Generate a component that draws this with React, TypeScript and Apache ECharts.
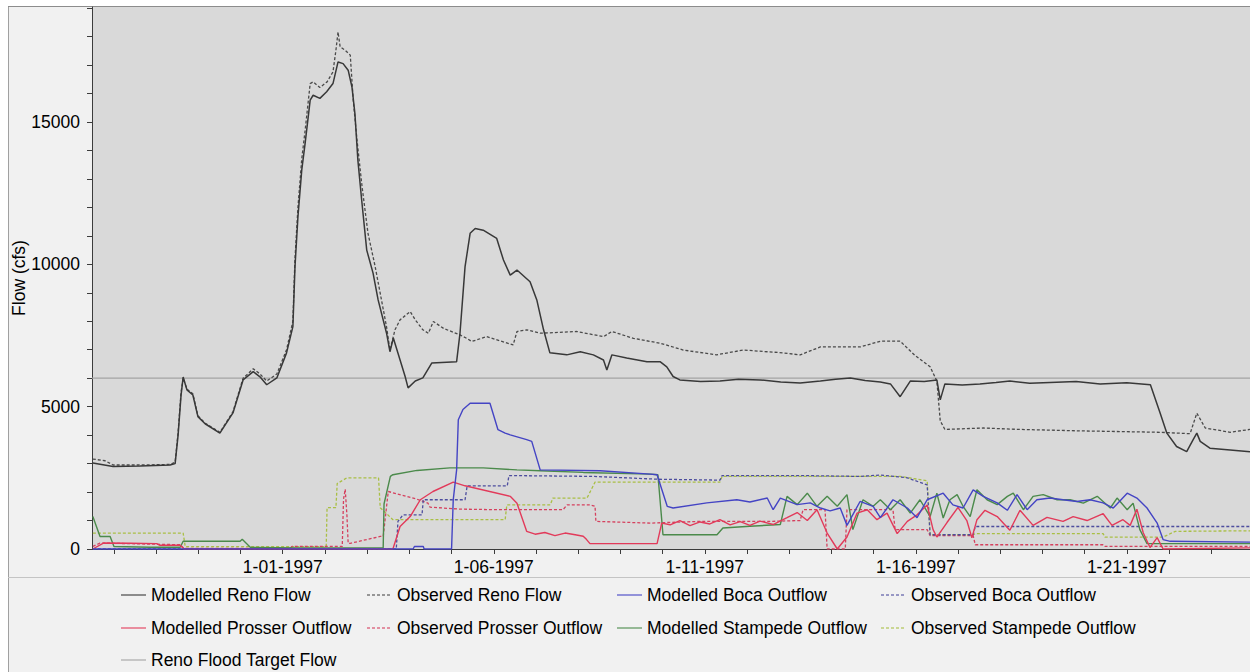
import React, { useEffect, useRef } from "react";
import * as echarts from "echarts";

// x values are days since 1 Jan 1997 00:00; y values are flow in cfs
const X_MIN = -4.52;
const X_MAX = 22.92;
const Y_MAX = 19040;

const dayTicks = [-4, -3, -2, -1, 0, 1, 2, 3, 4, 5, 6, 7, 8, 9, 10, 11, 12, 13, 14, 15, 16, 17, 18, 19, 20, 21, 22];
const dateLabelDays = [0, 5, 10, 15, 20];
const flowLabels = [0, 5000, 10000, 15000];
const flowTicks = [0, 1000, 2000, 3000, 4000, 5000, 6000, 7000, 8000, 9000, 10000, 11000, 12000, 13000, 14000, 15000, 16000, 17000, 18000, 19000];

const renoFloodTarget: [number, number][] = [[-4.52, 6000], [22.92, 6000]];

const modelledReno: [number, number][] = [
  [-4.5, 3020], [-4.33, 2980], [-4.02, 2900], [-3.38, 2920], [-2.67, 2950], [-2.55, 3000], [-2.48, 4000], [-2.41, 5400],
  [-2.36, 6040], [-2.27, 5590], [-2.13, 5410], [-2.01, 4650], [-1.84, 4400], [-1.49, 4070], [-1.18, 4780], [-0.94, 5940],
  [-0.7, 6230], [-0.54, 6050], [-0.38, 5770], [-0.14, 6010], [0.09, 6890], [0.24, 7810], [0.29, 9920], [0.36, 11670],
  [0.45, 13310], [0.53, 14250], [0.65, 15770], [0.72, 15940], [0.88, 15830], [1.04, 16060], [1.19, 16350], [1.31, 17110],
  [1.43, 17050], [1.55, 16820], [1.64, 16230], [1.71, 15300], [1.78, 13660], [1.87, 12260], [1.99, 10500], [2.14, 9690],
  [2.26, 8750], [2.46, 7580], [2.54, 6930], [2.62, 7410], [2.78, 6640], [2.9, 6060], [2.97, 5660], [3.14, 5900],
  [3.32, 6010], [3.53, 6530], [4.12, 6580], [4.2, 7580], [4.32, 9920], [4.44, 11090], [4.56, 11260], [4.75, 11200],
  [5.07, 10910], [5.23, 10150], [5.39, 9620], [5.55, 9800], [5.86, 9390], [6.02, 8750], [6.18, 7700], [6.33, 6890],
  [6.73, 6820], [7.05, 6930], [7.36, 6820], [7.6, 6640], [7.68, 6290], [7.8, 6820], [8.15, 6710], [8.63, 6580],
  [8.94, 6580], [9.1, 6400], [9.25, 6060], [9.41, 5940], [9.9, 5880], [10.36, 5900], [10.8, 5960], [11.31, 5940],
  [11.8, 5870], [12.26, 5830], [12.74, 5900], [13.1, 5960], [13.45, 6010], [13.8, 5920], [14.16, 5870], [14.4, 5800],
  [14.63, 5350], [14.87, 5900], [15.2, 5880], [15.5, 5940], [15.58, 5240], [15.69, 5800], [16.1, 5760], [16.52, 5800],
  [16.9, 5850], [17.23, 5900], [17.7, 5820], [18.18, 5850], [18.8, 5880], [19.37, 5800], [20.0, 5840], [20.56, 5770],
  [20.79, 4780], [20.95, 4070], [21.18, 3600], [21.42, 3420], [21.57, 3830], [21.66, 4070], [21.74, 3780], [21.97, 3540],
  [22.45, 3480], [22.92, 3420],
];

const observedReno: [number, number][] = [
  [-4.5, 3160], [-4.21, 3100], [-4.02, 2950], [-3.38, 2950], [-2.67, 2970], [-2.55, 3050], [-2.48, 4100], [-2.41, 5500],
  [-2.36, 6000], [-2.27, 5620], [-2.13, 5450], [-2.01, 4680], [-1.84, 4420], [-1.49, 4100], [-1.18, 4820], [-0.94, 6000],
  [-0.7, 6330], [-0.54, 6150], [-0.38, 5900], [-0.14, 6150], [0.09, 7000], [0.24, 8000], [0.29, 10200], [0.36, 12000],
  [0.45, 13700], [0.53, 14700], [0.65, 16350], [0.72, 16410], [0.88, 16210], [1.05, 16410], [1.19, 16760], [1.26, 17520],
  [1.31, 18160], [1.36, 17640], [1.48, 17520], [1.6, 17350], [1.67, 15770], [1.76, 14360], [1.88, 12720], [2.02, 11090],
  [2.19, 9920], [2.31, 8980], [2.46, 7800], [2.54, 6990], [2.66, 7700], [2.78, 8050], [3.02, 8340], [3.14, 8050],
  [3.32, 7700], [3.45, 7580], [3.57, 7990], [3.81, 7750], [4.2, 7520], [4.36, 7400], [4.48, 7290], [4.83, 7460],
  [5.46, 7170], [5.55, 7640], [5.78, 7700], [6.1, 7580], [6.97, 7640], [7.6, 7460], [7.8, 7640], [8.31, 7400],
  [8.94, 7230], [9.49, 6990], [10.28, 6820], [10.91, 6990], [11.77, 6900], [12.26, 6820], [12.74, 7100], [13.69, 7100],
  [14.16, 7300], [14.63, 7300], [14.98, 6800], [15.34, 6400], [15.5, 5900], [15.58, 4500], [15.69, 4200], [16.6, 4250],
  [17.48, 4200], [18.9, 4150], [20.79, 4100], [21.5, 4050], [21.66, 4770], [21.86, 4250], [22.45, 4100], [22.92, 4200],
];

const modelledBoca: [number, number][] = [
  [-4.5, 0], [3.09, 0], [3.12, 90], [3.33, 90], [3.35, 0], [4.0, 0], [4.04, 1730], [4.12, 2780], [4.16, 4540],
  [4.27, 4900], [4.44, 5120], [4.91, 5120], [5.1, 4190], [5.27, 4070], [5.39, 4010], [5.78, 3840], [5.9, 3780],
  [6.1, 2780], [7.52, 2750], [8.71, 2630], [8.87, 2610], [9.11, 1500], [9.25, 1440], [10.05, 1620], [10.76, 1730],
  [11.07, 1650], [11.48, 1790], [11.62, 1380], [11.79, 1790], [12.19, 1560], [12.5, 1620], [12.74, 1440], [12.97, 1340],
  [13.21, 1440], [13.37, 830], [13.68, 1670], [13.99, 1500], [14.16, 1100], [14.46, 1730], [14.8, 1440], [15.03, 1100],
  [15.27, 1730], [15.65, 1960], [15.88, 1550], [16.12, 1440], [16.36, 2080], [16.6, 1850], [16.93, 1620], [17.17, 1360],
  [17.4, 1910], [17.64, 1380], [17.87, 1730], [18.18, 1790], [18.49, 1730], [18.82, 1670], [19.13, 1730], [19.44, 1620],
  [19.68, 1440], [20.01, 1960], [20.24, 1790], [20.48, 1440], [20.72, 910], [20.86, 330], [21.03, 270], [22.92, 240],
];

const observedBoca: [number, number][] = [
  [-4.5, 0], [2.69, 0], [2.73, 970], [2.85, 1200], [3.3, 1200], [3.33, 1730], [4.32, 1730], [4.37, 2220], [5.32, 2220],
  [5.36, 2580], [7.36, 2550], [8.91, 2450], [10.36, 2420], [10.41, 2580], [12.26, 2580], [13.69, 2550], [14.16, 2600],
  [14.8, 2500], [15.27, 2250], [15.34, 500], [16.36, 500], [16.41, 790], [22.92, 790],
];

const modelledProsser: [number, number][] = [
  [-4.5, 0], [-4.25, 210], [-3.61, 200], [-2.99, 190], [-2.91, 130], [-2.43, 130], [-2.34, 0], [2.61, 0], [2.78, 790],
  [3.02, 1140], [3.26, 1730], [3.56, 2020], [4.04, 2350], [4.32, 2220], [5.39, 1850], [5.55, 1610], [5.78, 620],
  [5.98, 520], [6.21, 580], [6.45, 470], [6.69, 560], [6.93, 500], [7.12, 450], [7.2, 330], [7.28, 190], [8.87, 190],
  [8.98, 910], [9.18, 850], [9.41, 1000], [9.65, 820], [9.89, 950], [10.12, 880], [10.36, 1030], [10.6, 850],
  [10.84, 960], [11.07, 830], [11.31, 980], [11.62, 860], [11.95, 1100], [12.19, 1280], [12.43, 1000], [12.66, 1380],
  [12.9, 560], [13.14, 0], [13.37, 420], [13.61, 1260], [13.85, 1380], [14.08, 1030], [14.32, 1260], [14.56, 540],
  [14.8, 970], [15.03, 1200], [15.27, 1550], [15.41, 680], [15.5, 420], [15.74, 930], [16.0, 1460], [16.21, 1000],
  [16.33, 390], [16.45, 1030], [16.64, 1360], [16.93, 1140], [17.23, 660], [17.47, 1360], [17.78, 830], [18.11, 1110],
  [18.49, 970], [18.73, 1140], [19.06, 1000], [19.44, 1240], [19.65, 830], [19.91, 1030], [20.08, 830], [20.24, 1400],
  [20.39, 570], [20.55, 50], [20.72, 400], [20.86, 0], [22.92, 40],
];

const observedProsser: [number, number][] = [
  [-4.5, 90], [-4.33, 210], [-2.43, 150], [-2.34, 20], [0.17, 20], [0.22, 90], [1.41, 90], [1.44, 1750], [1.48, 2100],
  [1.52, 1200], [1.55, 200], [1.6, 200], [2.31, 440], [2.38, 440], [2.5, 2020], [3.18, 1750], [3.44, 1610], [3.49, 1470],
  [4.2, 1400], [5.15, 1380], [6.64, 1380], [6.74, 1550], [7.28, 1550], [7.4, 1500], [7.42, 970], [8.71, 910],
  [9.89, 970], [11.54, 970], [12.26, 1000], [12.33, 1380], [12.85, 1380], [12.9, 0], [13.33, 0], [13.37, 1380],
  [14.46, 1380], [14.51, 680], [15.27, 680], [15.34, 470], [16.36, 470], [16.41, 150], [19.44, 150], [19.48, 90],
  [22.92, 90],
];

const modelledStampede: [number, number][] = [
  [-4.5, 1140], [-4.33, 440], [-4.09, 440], [-4.0, 90], [-3.14, 60], [-2.43, 60], [-2.36, 270], [-1.01, 270],
  [-0.96, 340], [-0.77, 60], [0.41, 40], [2.38, 40], [2.4, 1580], [2.55, 2550], [2.61, 2610], [3.18, 2760],
  [3.96, 2850], [4.75, 2850], [5.55, 2780], [6.1, 2750], [7.12, 2690], [8.71, 2630], [8.89, 2610], [9.01, 500],
  [10.29, 500], [10.43, 740], [11.07, 800], [11.79, 860], [11.95, 1850], [12.19, 1560], [12.43, 1960], [12.66, 1500],
  [12.9, 1850], [13.14, 1500], [13.37, 1910], [13.51, 680], [13.75, 1730], [13.99, 1500], [14.16, 1730], [14.4, 1380],
  [14.63, 1730], [14.87, 1260], [15.1, 1730], [15.34, 1140], [15.5, 1960], [15.65, 1090], [15.81, 1730], [15.98, 1910],
  [16.12, 1500], [16.29, 1140], [16.45, 2080], [16.69, 1730], [16.93, 1560], [17.17, 1850], [17.31, 1960], [17.55, 1380],
  [17.78, 1850], [18.02, 1910], [18.35, 1730], [18.66, 1730], [18.97, 1610], [19.3, 1850], [19.61, 1440], [19.77, 1790],
  [20.01, 1380], [20.15, 1610], [20.31, 680], [20.48, 190], [22.92, 190],
];

const observedStampede: [number, number][] = [
  [-4.5, 560], [-2.36, 560], [-2.31, 80], [1.03, 80], [1.05, 1450], [1.26, 1450], [1.29, 2300], [1.52, 2500],
  [2.27, 2500], [2.31, 1450], [2.61, 1030], [5.27, 1030], [5.31, 1550], [6.34, 1550], [6.4, 1790], [7.21, 1790],
  [7.4, 2350], [10.36, 2350], [10.41, 2550], [14.63, 2550], [15.27, 2400], [15.34, 500], [16.36, 500], [16.41, 540],
  [19.44, 540], [19.48, 420], [20.86, 420], [21.15, 620], [22.92, 640],
];

const FONT = "'Liberation Sans', Arial, sans-serif";
const FS = 17.5;

type SeriesDef = { name: string; data: [number, number][]; color: string; dashed: boolean; width: number };

const seriesDefs: SeriesDef[] = [
  { name: "Reno Flood Target Flow", data: renoFloodTarget, color: "#a3a3a3", dashed: false, width: 1.2 },
  { name: "Observed Stampede Outflow", data: observedStampede, color: "#a9bf45", dashed: true, width: 1.3 },
  { name: "Observed Prosser Outflow", data: observedProsser, color: "#d5405e", dashed: true, width: 1.3 },
  { name: "Observed Boca Outflow", data: observedBoca, color: "#4d4d9e", dashed: true, width: 1.3 },
  { name: "Modelled Stampede Outflow", data: modelledStampede, color: "#4b8a4b", dashed: false, width: 1.4 },
  { name: "Modelled Prosser Outflow", data: modelledProsser, color: "#e23a5a", dashed: false, width: 1.4 },
  { name: "Modelled Boca Outflow", data: modelledBoca, color: "#4444c4", dashed: false, width: 1.4 },
  { name: "Observed Reno Flow", data: observedReno, color: "#4a4a4a", dashed: true, width: 1.3 },
  { name: "Modelled Reno Flow", data: modelledReno, color: "#383838", dashed: false, width: 1.5 },
];

const legendLayout: { name: string; left: number; top: number }[] = [
  { name: "Modelled Reno Flow", left: 120, top: 586 },
  { name: "Observed Reno Flow", left: 366, top: 586 },
  { name: "Modelled Boca Outflow", left: 616, top: 586 },
  { name: "Observed Boca Outflow", left: 880, top: 586 },
  { name: "Modelled Prosser Outflow", left: 120, top: 619 },
  { name: "Observed Prosser Outflow", left: 366, top: 619 },
  { name: "Modelled Stampede Outflow", left: 616, top: 619 },
  { name: "Observed Stampede Outflow", left: 880, top: 619 },
  { name: "Reno Flood Target Flow", left: 120, top: 651 },
];

function pad2(n: number) {
  return n < 10 ? "0" + n : String(n);
}

export default function App() {
  const ref = useRef<HTMLDivElement>(null);
  useEffect(() => {
    if (!ref.current) return;
    const chart = echarts.init(ref.current, undefined, { renderer: "svg" });
    const option: any = {
      animation: false,
      backgroundColor: "#f1f1f1",
      textStyle: { fontFamily: FONT },
      grid: {
        left: 92,
        top: 7,
        right: 0,
        bottom: 123,
        show: true,
        backgroundColor: "#d9d9d9",
        borderWidth: 0,
        containLabel: false,
        outerBoundsMode: "none",
      },
      xAxis: {
        type: "value",
        min: X_MIN,
        max: X_MAX,
        axisLine: { show: true, onZero: false, lineStyle: { color: "#3c3c3c", width: 1 } },
        axisTick: { show: true, customValues: dayTicks, length: 5, lineStyle: { color: "#3c3c3c" } },
        axisLabel: {
          customValues: dateLabelDays,
          formatter: (v: number) => "1-" + pad2(Math.round(v) + 1) + "-1997",
          color: "#000",
          fontSize: FS,
          fontFamily: FONT,
          margin: 9,
        },
        splitLine: { show: false },
      },
      yAxis: {
        type: "value",
        min: 0,
        max: Y_MAX,
        name: "Flow (cfs)",
        nameLocation: "middle",
        nameGap: 64,
        nameMoveOverlap: false,
        nameTextStyle: { color: "#000", fontSize: FS, fontFamily: FONT },
        axisLine: { show: true, onZero: false, lineStyle: { color: "#3c3c3c", width: 1 } },
        axisTick: { show: true, customValues: flowTicks, length: 5, lineStyle: { color: "#3c3c3c" } },
        axisLabel: {
          customValues: flowLabels,
          formatter: (v: number) => String(v),
          color: "#000",
          fontSize: FS,
          fontFamily: FONT,
          margin: 12,
        },
        splitLine: { show: false },
      },
      legend: legendLayout.map((l) => ({
        data: [l.name],
        left: l.left,
        top: l.top,
        padding: 0,
        itemWidth: 25,
        itemHeight: 14,
        itemGap: 0,
        selectedMode: false,
        textStyle: { color: "#000", fontSize: FS, fontFamily: FONT },
        itemStyle: { opacity: 0, borderWidth: 0 },
        lineStyle: { opacity: 0.55 },
      })),
      graphic: [
        { type: "rect", silent: true, shape: { x: 0, y: 0, width: 8, height: 672 }, style: { fill: "#ffffff" } },
        { type: "rect", silent: true, shape: { x: 0, y: 0, width: 1250, height: 6 }, style: { fill: "#ffffff" } },
        { type: "line", silent: true, shape: { x1: 8.5, y1: 6, x2: 8.5, y2: 672 }, style: { stroke: "#a0a0a0", lineWidth: 1 } },
        { type: "line", silent: true, shape: { x1: 8, y1: 6.5, x2: 1250, y2: 6.5 }, style: { stroke: "#8c8c8c", lineWidth: 1 } },
        { type: "line", silent: true, shape: { x1: 8, y1: 577.5, x2: 1250, y2: 577.5 }, style: { stroke: "#c4c4c4", lineWidth: 1 } },
      ],
      series: seriesDefs.map((s) => ({
        type: "line",
        name: s.name,
        data: s.data,
        symbol: "none",
        clip: true,
        color: s.color,
        lineStyle: { color: s.color, width: s.width, type: s.dashed ? [3, 2] : "solid" },
        emphasis: { disabled: true },
      })),
    };
    chart.setOption(option);
    return () => chart.dispose();
  }, []);
  return (
    <div
      ref={ref}
      style={{ position: "fixed", left: 0, top: 0, width: 1250, height: 672 }}
    />
  );
}
